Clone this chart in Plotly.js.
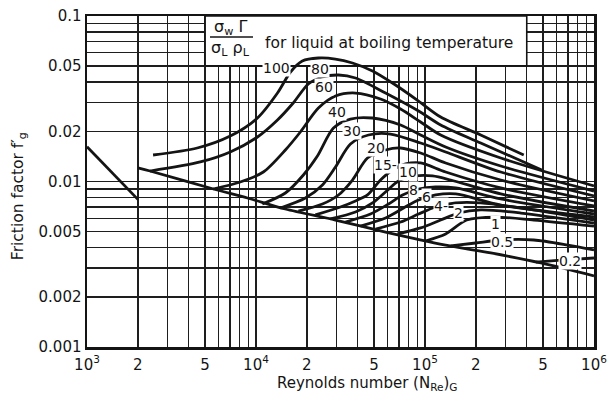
<!DOCTYPE html>
<html><head><meta charset="utf-8">
<script src="https://cdn.plot.ly/plotly-3.0.1.min.js"></script>
<style>html,body{margin:0;padding:0;background:#fff}#chart{width:608px;height:396px}</style>
</head><body><div id="chart"></div>
<script>
// ---- data ----
const laminarRe = [1000, 2000];
const laminarF = [0.0162, 0.0078];
const dryRe = [2000, 2360, 5600, 8900, 14900, 29500, 58400, 132500, 245000, 485000, 1000000];
const dryF = [0.0121, 0.01157, 0.00901, 0.00795, 0.00682, 0.00585, 0.00495, 0.00413, 0.0037, 0.00322, 0.00269];

const re100 = [2460, 4490, 7040, 10200, 13400, 16000, 18800, 23400, 29500, 37200, 48900, 66900, 91600, 123800, 213600, 384000];
const f100 = [0.01446, 0.01594, 0.01883, 0.02419, 0.03424, 0.04589, 0.05346, 0.05573, 0.05496, 0.0520, 0.04653, 0.03829, 0.03064, 0.02453, 0.0191, 0.01446];
const re80 = [2360, 4680, 7040, 10200, 13400, 16600, 20400, 24700, 30800, 38800, 58400, 91600, 123800, 213600, 491000];
const f80 = [0.01157, 0.01312, 0.01508, 0.01857, 0.02353, 0.0298, 0.03882, 0.0428, 0.044, 0.04221, 0.03424, 0.02667, 0.02195, 0.01708, 0.01174];
const re60 = [5580, 8070, 11050, 14920, 18300, 23400, 29530, 38780, 54560, 71700, 94170, 123800, 280600, 1000000];
const f60 = [0.00901, 0.00993, 0.01141, 0.0155, 0.01991, 0.0278, 0.03286, 0.03424, 0.03151, 0.02742, 0.02289, 0.0191, 0.01387, 0.0094];
const re40 = [10900, 14920, 19070, 23090, 28730, 36220, 48910, 71700, 94170, 132500, 280600, 1000000];
const f40 = [0.00731, 0.00852, 0.01095, 0.01426, 0.02105, 0.02385, 0.02419, 0.02195, 0.0191, 0.01616, 0.01241, 0.00876];
const re30 = [13930, 19600, 24720, 29530, 36220, 46300, 62520, 94170, 132500, 280600, 1000000];
const f30 = [0.00692, 0.00795, 0.00953, 0.01224, 0.01684, 0.0191, 0.01936, 0.01708, 0.01508, 0.01141, 0.00818];
const re20 = [17810, 24720, 30750, 37220, 45680, 58410, 71700, 94170, 132500, 280600, 1000000];
const f20 = [0.00663, 0.00731, 0.00829, 0.01021, 0.01387, 0.0155, 0.01594, 0.01487, 0.01294, 0.01021, 0.00763];
const re15 = [22460, 31600, 38780, 45680, 54560, 64260, 76740, 94170, 132500, 280600, 1000000];
const f15 = [0.00628, 0.00701, 0.00763, 0.00829, 0.01021, 0.01174, 0.01276, 0.01294, 0.01141, 0.00914, 0.00711];
const re10 = [27570, 38780, 48910, 59220, 69750, 88000, 110900, 141900, 280600, 1000000];
const f10 = [0.00594, 0.00654, 0.00742, 0.00876, 0.01007, 0.0108, 0.0108, 0.01021, 0.00841, 0.00663];
const re8 = [33830, 47590, 60840, 73680, 91620, 115600, 151900, 280600, 1000000];
const f8 = [0.00569, 0.00636, 0.00731, 0.00829, 0.00901, 0.00927, 0.00914, 0.00784, 0.00636];
const re6 = [41520, 58410, 74690, 91620, 115600, 151900, 280600, 1000000];
const f6 = [0.00538, 0.00602, 0.00692, 0.00773, 0.00829, 0.00841, 0.00721, 0.0061];
const re4 = [50960, 71700, 91620, 115600, 151900, 213600, 368700, 1000000];
const f4 = [0.00516, 0.00569, 0.00636, 0.00701, 0.00742, 0.00742, 0.00692, 0.00585];
const re2 = [68800, 94170, 123800, 158200, 213600, 368700, 1000000];
const f2 = [0.00482, 0.00524, 0.00585, 0.00645, 0.00673, 0.00645, 0.00561];
const re1 = [100800, 132500, 176400, 262100, 440400, 1000000];
const f1 = [0.00437, 0.00482, 0.00585, 0.0061, 0.00585, 0.00538];
const re05 = [141900, 199500, 280600, 440400, 700300, 1000000];
const f05 = [0.00408, 0.00425, 0.00443, 0.00443, 0.00413, 0.00386];
const re02 = [452500, 636700, 1000000];
const f02 = [0.00326, 0.00335, 0.00345];

// curve labels (parameter value and where it is written)
const labelText = ['100', '80', '60', '40', '30', '20', '15-', '10', '8', '6', '4-', '2', '1', '0.5', '0.2'];
const labelRe = [13190, 24060, 25410, 30340, 37220, 50960, 58410, 78860, 85580, 102200, 123800, 158200, 262100, 284500, 719800];
const labelF = [0.04851, 0.04784, 0.03724, 0.0263, 0.02019, 0.01594, 0.01258, 0.01141, 0.008886, 0.00806, 0.007112, 0.006452, 0.005536, 0.004308, 0.003308];

// legend-box corners (Re, f) of the white caption panel
const boxRe = [5000, 400000, 400000, 5000, 5000];
const boxF = [0.05, 0.05, 0.1, 0.1, 0.05];

// axis tick labels
const xTickVals = [1000, 2000, 5000, 10000, 20000, 50000, 100000, 200000, 500000, 1000000];
const xTickText = ['10<sup>3</sup>', '2', '5', '10<sup>4</sup>', '2', '5', '10<sup>5</sup>', '2', '5', '10<sup>6</sup>'];
const yTickVals = [0.001, 0.002, 0.005, 0.01, 0.02, 0.05, 0.1];
const yTickText = ['0.001', '0.002', '0.005', '0.01', '0.02', '0.05', '0.1'];

// ---- build ----
function gridTicks(d0, d1, valsLab, textLab) {
  const v = [], t = [];
  for (let d = d0; d <= d1; d++) {
    for (let m = 1; m <= 9; m++) {
      const val = m * Math.pow(10, d);
      if (d === d1 && m > 1) break;
      v.push(val);
      const idx = valsLab.findIndex(q => Math.abs(q - val) / val < 1e-6);
      t.push(idx >= 0 ? textLab[idx] : '');
    }
  }
  return {v, t};
}
const gx = gridTicks(3, 6, xTickVals, xTickText);
const gy = gridTicks(-3, -1, yTickVals, yTickText);

const ink = '#141414';
const curveStyle = {color: ink, width: 2.8, shape: 'spline', smoothing: 0.8};
const series = [
  [laminarRe, laminarF], [dryRe, dryF],
  [re100, f100], [re80, f80], [re60, f60], [re40, f40], [re30, f30], [re20, f20],
  [re15, f15], [re10, f10], [re8, f8], [re6, f6], [re4, f4], [re2, f2],
  [re1, f1], [re05, f05], [re02, f02]
];
const traces = [{
  x: boxRe, y: boxF, type: 'scatter', mode: 'lines', fill: 'toself', fillcolor: 'white',
  line: {color: ink, width: 1.6}, hoverinfo: 'skip', showlegend: false
}].concat(series.map(s => ({
  x: s[0], y: s[1], type: 'scatter', mode: 'lines',
  line: curveStyle, hoverinfo: 'skip', showlegend: false
})));

const annotations = labelText.map((t, i) => ({
  x: Math.log10(labelRe[i]), y: Math.log10(labelF[i]), xref: 'x', yref: 'y',
  text: t, showarrow: false, bgcolor: 'white', borderpad: 0,
  font: {size: 14, color: ink}, xanchor: 'center', yanchor: 'middle'
}));
annotations.push(
  {xref: 'paper', yref: 'paper', x: 0.283, y: 0.965, text: 'σ<sub>w</sub> Γ', showarrow: false,
   font: {size: 16, color: ink}, xanchor: 'center', yanchor: 'middle'},
  {xref: 'paper', yref: 'paper', x: 0.283, y: 0.902, text: 'σ<sub>L</sub> ρ<sub>L</sub>', showarrow: false,
   font: {size: 16, color: ink}, xanchor: 'center', yanchor: 'middle'},
  {xref: 'paper', yref: 'paper', x: 0.5957, y: 0.918, text: 'for liquid at boiling temperature', showarrow: false,
   font: {size: 15.5, color: ink}, xanchor: 'center', yanchor: 'middle'},
  {xref: 'paper', yref: 'paper', x: 0.5523, y: -0.11, text: 'Reynolds number (N<sub>Re</sub>)<sub>G</sub>', showarrow: false,
   font: {size: 15, color: ink}, xanchor: 'center', yanchor: 'middle'},
  {xref: 'paper', yref: 'paper', x: -0.134, y: 0.456, text: 'Friction factor f′<sub>g</sub>', showarrow: false,
   textangle: -90, font: {size: 15.5, color: ink}, xanchor: 'center', yanchor: 'middle'}
);

const shapes = [
  {type: 'line', xref: 'paper', yref: 'paper', x0: 0.2426, x1: 0.3274, y0: 0.9366, y1: 0.9366,
   line: {color: ink, width: 1.6}}
];

const axisCommon = {
  type: 'log', showgrid: true, gridcolor: '#1e1e1e', gridwidth: 1.4,
  showline: true, mirror: true, linecolor: ink, linewidth: 2.5,
  ticks: '', zeroline: false, tickmode: 'array', tickfont: {size: 15, color: ink}
};

const layout = {
  width: 608, height: 396,
  margin: {l: 87, r: 14, t: 16, b: 49},
  paper_bgcolor: 'white', plot_bgcolor: 'white',
  font: {family: 'DejaVu Sans', color: ink},
  xaxis: Object.assign({}, axisCommon, {range: [3, 6], tickvals: gx.v, ticktext: gx.t, ticklabelstandoff: 2}),
  yaxis: Object.assign({}, axisCommon, {range: [-3, -1], tickvals: gy.v, ticktext: gy.t}),
  annotations: annotations,
  shapes: shapes,
  showlegend: false
};

Plotly.newPlot('chart', traces, layout, {staticPlot: true, displayModeBar: false});
</script>
</body></html>
